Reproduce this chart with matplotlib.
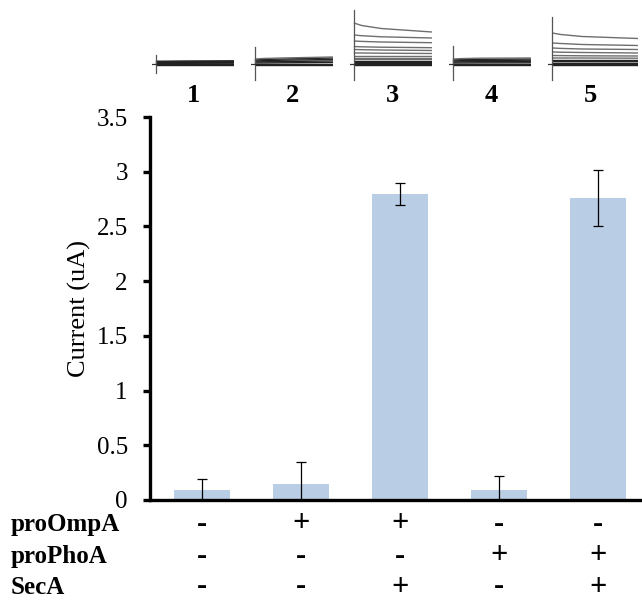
import matplotlib.pyplot as plt
import numpy as np

plt.rcParams['font.family'] = ['Liberation Serif', 'DejaVu Serif']

# Bar data
lanes = ["1", "2", "3", "4", "5"]
current = [0.09, 0.15, 2.80, 0.09, 2.76]
current_err = [0.10, 0.20, 0.10, 0.13, 0.26]

# Condition table
row_names = ["proOmpA", "proPhoA", "SecA"]
pro_ompa = ["-", "+", "+", "-", "-"]
pro_phoa = ["-", "-", "-", "+", "+"]
seca = ["-", "-", "+", "-", "+"]

# Current traces above each lane (arbitrary units, baseline 0)
# each trace given as its level at t = 0, 0.1, 0.35, 1
trace_t = [0.0, 0.1, 0.35, 1.0]
traces = {
    "1": [[-1, -1, -1, -1], [0, 0, 0, 0], [0.7, 0.7, 0.7, 0.8], [1.4, 1.4, 1.5, 1.6],
          [2.1, 2.1, 2.2, 2.4], [2.8, 2.8, 3, 3.2]],
    "2": [[-1, -1, -1, -1], [0, 0, 0, 0], [1, 1, 1.2, 1.5], [2, 2.2, 2.5, 3],
          [3, 3.3, 3.8, 4.5], [4, 4.5, 5, 6], [5, 5.5, 6, 7]],
    "3": [[-1, -1, -1, -1], [0, 0, 0, 0], [0.7, 0.7, 0.7, 0.7], [1.5, 1.5, 1.5, 1.5],
          [2.5, 2.5, 2.5, 2.5], [3.5, 3.5, 3.5, 3.5], [4.8, 4.8, 4.8, 4.8],
          [6, 6, 6, 6], [8, 8, 8, 8], [11, 11, 10.8, 10.5], [14.5, 14.3, 14, 13.5],
          [17.5, 17.2, 16.8, 16.3], [23, 22.6, 22, 21.3], [29, 28.3, 27.2, 26],
          [41, 38.5, 35.5, 32]],
    "4": [[-1, -1, -1, -1], [0, 0, 0, 0], [1, 1, 1.1, 1.2], [2, 2.2, 2.3, 2.5],
          [3, 3.3, 3.5, 3.8], [4, 4.4, 4.7, 5], [5, 5.4, 5.8, 6]],
    "5": [[-1, -1, -1, -1], [0, 0, 0, 0], [0.7, 0.7, 0.7, 0.7], [1.5, 1.5, 1.5, 1.5],
          [2.6, 2.6, 2.6, 2.6], [4, 4, 4, 4], [6, 6, 6, 5.8], [8.5, 8.4, 8.2, 8],
          [12, 11.8, 11.5, 11], [16, 15.6, 15, 14.5], [21, 20.5, 19.5, 18.5],
          [31, 29.5, 27.5, 25.5]],
}
# vertical stimulus marker range for each trace panel
trace_vbar = {"1": (-9, 9), "2": (-16, 17), "3": (-16, 54), "4": (-16, 18), "5": (-16, 47)}

bar_color = '#b9cde5'
W, H = 642, 602

fig = plt.figure(figsize=(6.42, 6.02), dpi=100)
ax = fig.add_axes([150 / W, 102 / H, 492 / W, 383 / H])

x = np.arange(len(lanes))
ax.bar(x, current, width=0.56, color=bar_color, zorder=1)
ax.errorbar(x, current, yerr=current_err, fmt='none', ecolor='black',
            elinewidth=0.9, capsize=3.5, capthick=0.9, zorder=2)

ax.set_xlim(-0.525, 4.445)
ax.set_ylim(0, 3.5)
ax.set_yticks([0, 0.5, 1, 1.5, 2, 2.5, 3, 3.5])
ax.set_yticklabels(["0", "0.5", "1", "1.5", "2", "2.5", "3", "3.5"])
ax.set_xticks([])
ax.tick_params(axis='y', direction='out', length=5, width=2.4, labelsize=18, pad=11)
ax.set_ylabel("Current (uA)", fontsize=19, labelpad=4)
for spine in ['top', 'right']:
    ax.spines[spine].set_visible(False)
for spine in ['left', 'bottom']:
    ax.spines[spine].set_linewidth(2.4)
    ax.spines[spine].set_color('black')

# Condition table below the axis
rows = [pro_ompa, pro_phoa, seca]
row_ys = [524, 556, 587]
for name, vals, ypx in zip(row_names, rows, row_ys):
    fig.text(11 / W, 1 - ypx / H, name, fontsize=18, fontweight='bold',
             ha='left', va='center')
    for xi, v in zip(x, vals):
        xd = ax.transData.transform((xi, 0))[0]
        fig.text(xd / W, 1 - ypx / H, v, fontsize=22, fontweight='bold',
                 ha='center', va='center')

# Lane numbers above the axis
for xi, lab in zip(x, lanes):
    xd = ax.transData.transform((xi, 0))[0]
    fig.text(xd / W - 8 / W, 1 - 96 / H, lab, fontsize=19, fontweight='bold',
             ha='center', va='center')

# Trace insets
for xi, lab in zip(x, lanes):
    xd = ax.transData.transform((xi, 0))[0]
    left = xd - 50
    width = 82 if lab != "5" else 90
    tax = fig.add_axes([left / W, 1 - 82 / H, width / W, 74 / H])
    tax.set_xlim(-0.05, 1.0)
    tax.set_ylim(-18, 56)
    tax.axis('off')
    for i, tr in enumerate(traces[lab]):
        shade = '#222222' if i < 6 else '#6e6e6e'
        tax.plot(trace_t, tr, color=shade, lw=1.0, solid_capstyle='butt')
    lo, hi = trace_vbar[lab]
    tax.plot([0, 0], [lo, hi], color='#555555', lw=0.9)
    tax.plot([-0.05, 0], [0, 0], color='#333333', lw=0.9)
    if lab == "2":
        tax.plot([1, 1], [-16, 9], color='#888888', lw=0.7)

fig.savefig('out.png', dpi=100)
